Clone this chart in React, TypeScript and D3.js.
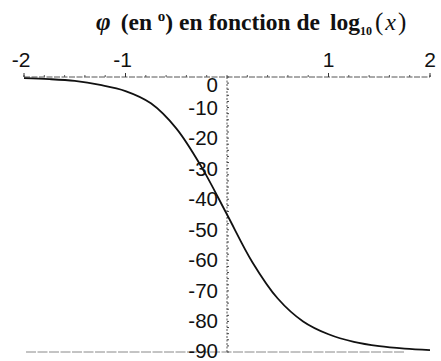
import React from "react";
import * as d3 from "d3";

// Phase angle (degrees) sampled along log10(x)
const logX = [-2, -1.75, -1.5, -1.25, -1, -0.75, -0.5, -0.25, 0, 0.25, 0.5, 0.75, 1, 1.25, 1.5, 1.75, 2];
const phi = [-0.4, -0.7, -1.3, -2.6, -4.6, -8.6, -16.8, -29.5, -45, -60.6, -72.5, -80, -84.2, -86.7, -88.1, -88.9, -89.4];

const xTickValues = [-2, -1, 1, 2];
const yTickValues = [0, -10, -20, -30, -40, -50, -60, -70, -80, -90];

const W = 441;
const H = 361;

export default function App() {
  const x = d3.scaleLinear().domain([-2, 2]).range([24, 430]);
  const y = d3.scaleLinear().domain([0, -90]).range([77, 352]);

  const line = d3
    .line<number>()
    .x((_, i) => x(logX[i]))
    .y((d) => y(d))
    .curve(d3.curveCatmullRom.alpha(0.5));

  const minorX = d3.range(-2, 2.0001, 0.2);
  const minorY = d3.range(0, -90.0001, -2);
  const x0 = x(0);
  const yAxis = y(0);
  const labelFont = "'Liberation Sans', Arial, sans-serif";
  const titleFont = "'Liberation Serif', 'Times New Roman', serif";

  return (
    <svg
      width={W}
      height={H}
      viewBox={`0 0 ${W} ${H}`}
      style={{ position: "absolute", left: 0, top: 0, background: "#fff" }}
    >
      {/* title */}
      <text x={96} y={30} fontFamily={titleFont} fontWeight="bold" fontSize={23.5} fill="#111">
        <tspan fontStyle="italic" fontSize={25}>φ</tspan>
        <tspan dx={10}>(en </tspan>
        <tspan dy={-9} fontSize={15}>o</tspan>
        <tspan dy={9}>) en fonction de </tspan>
        <tspan dx={4}>log</tspan>
        <tspan dy={5} fontSize={12}>10</tspan>
        <tspan dy={-5} dx={3} fontSize={25} fontWeight="normal">(</tspan>
        <tspan dx={2} fontStyle="italic" fontSize={24} fontWeight="normal">x</tspan>
        <tspan dx={2} fontSize={25} fontWeight="normal">)</tspan>
      </text>

      {/* horizontal axis */}
      <line x1={x(-2)} x2={x(2)} y1={yAxis} y2={yAxis} stroke="#555" strokeWidth={1} strokeDasharray="6 1.5" />
      {minorX.map((v, i) => (
        <line key={`mx${i}`} x1={x(v)} x2={x(v)} y1={yAxis - 2} y2={yAxis} stroke="#555" strokeWidth={1} />
      ))}
      {xTickValues.map((v) => (
        <g key={`xt${v}`}>
          <line x1={x(v)} x2={x(v)} y1={yAxis - 4} y2={yAxis} stroke="#333" strokeWidth={1} />
          <text x={x(v) - (v < 0 ? 3 : 0)} y={67} textAnchor="middle" fontFamily={labelFont} fontSize={21} fill="#111">
            {v}
          </text>
        </g>
      ))}

      {/* bottom reference line at -90 */}
      <line x1={x(-1.98)} x2={x(1.75)} y1={y(-90)} y2={y(-90)} stroke="#888" strokeWidth={1} strokeDasharray="10 1.5" />

      {/* vertical axis */}
      <line x1={x0} x2={x0} y1={yAxis} y2={y(-90)} stroke="#555" strokeWidth={1} strokeDasharray="2 1.5" />
      {minorY.map((v, i) => (
        <line key={`my${i}`} x1={x0} x2={x0 + 2} y1={y(v)} y2={y(v)} stroke="#444" strokeWidth={1} />
      ))}
      {yTickValues.map((v) => (
        <text
          key={`yt${v}`}
          x={218}
          y={y(v) + (v === 0 ? 15 : v === -90 ? 6 : 7)}
          textAnchor="end"
          fontFamily={labelFont}
          fontSize={20.5}
          fill="#111"
        >
          {v}
        </text>
      ))}

      {/* phase curve */}
      <path d={line(phi) ?? ""} fill="none" stroke="#111" strokeWidth={1.8} />
    </svg>
  );
}
